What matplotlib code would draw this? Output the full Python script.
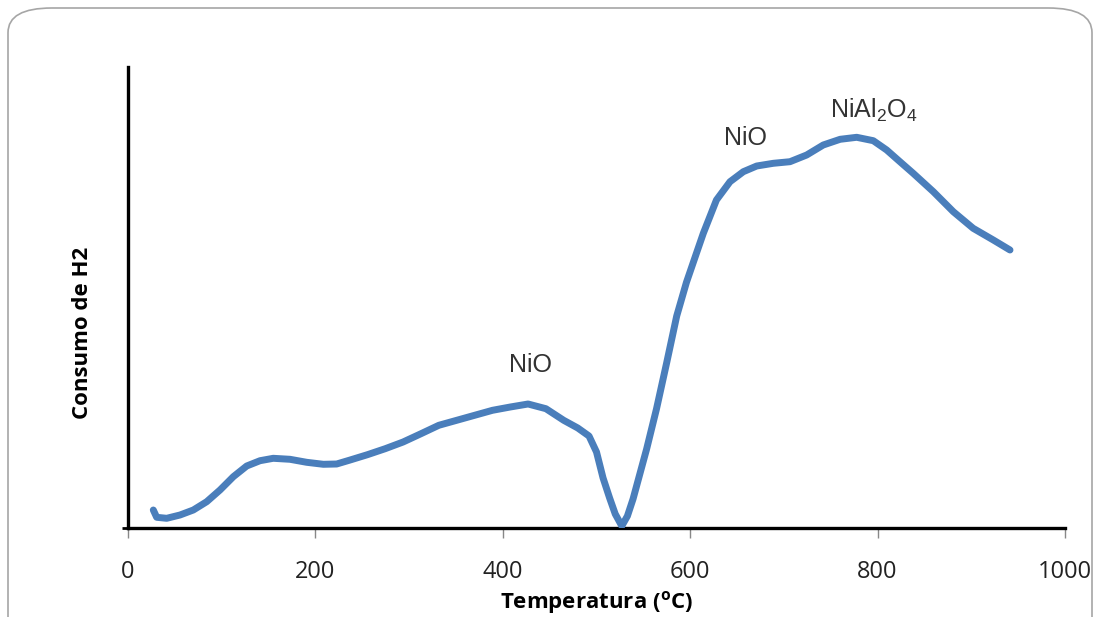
import matplotlib
matplotlib.use("Agg")
import matplotlib.pyplot as plt
from matplotlib.patches import FancyBboxPatch

# TPR curve (arbitrary units)
temperatura = [27, 30.6, 41.3, 55.5, 69.7, 84, 98.2, 112.4, 126.7, 140.9,
               155, 172.9, 190.7, 208.5, 222.7, 236, 255.5, 274.5, 293.6,
               312.7, 331.7, 350.8, 369.9, 389, 408, 427, 446, 465, 480, 492,
               500, 507, 514, 520, 527, 533, 539, 553.5, 564, 575, 585.6, 596,
               607, 614, 628, 642.5, 656.7, 671, 688.7, 706.5, 724.3, 742, 760,
               777.7, 795.4, 809.7, 823, 838, 859.5, 880.8, 902, 923.5, 941.3]
consumo = [18, 10.7, 9.7, 13, 18, 26.3, 38, 51.3, 62, 67.3,
           69.7, 68.7, 65.7, 63.7, 64, 67.7, 73.3, 79.3, 86,
           94.3, 102.7, 107.7, 112.7, 117.7, 121, 124, 119.3, 107.7, 100, 92,
           76, 50, 30, 14, 2, 12, 29, 79, 119, 165.7, 212, 245.7,
           275.7, 294.7, 328, 346.3, 356.3, 362, 364.7, 366.3, 373, 383, 388.7,
           390.7, 387.3, 378, 367, 354.7, 336.3, 316.3, 299.7, 288, 278]

x_ticks = [0, 200, 400, 600, 800, 1000]

picos = ["NiO", "NiO", "NiAl$_\\mathregular{2}$O$_\\mathregular{4}$"]
picos_x = [430, 659.5, 796]
picos_y = [156, 383, 410]

fig = plt.figure(figsize=(10.96, 6.17), dpi=100)

# rounded frame around the chart
marco = FancyBboxPatch((8 / 1096, -0.1), 1084 / 1096, 1.1 - 8 / 617,
                       boxstyle="round,pad=0,rounding_size=0.04",
                       transform=fig.transFigure, facecolor="none",
                       edgecolor="#a6a6a6", linewidth=1.2, zorder=0)
fig.patches.append(marco)

ax = fig.add_axes([128 / 1096, 89 / 617, 937 / 1096, 461 / 617])
ax.patch.set_alpha(0)

ax.plot(temperatura, consumo, color="#4a7ebb", linewidth=5,
        solid_capstyle="round", solid_joinstyle="round", zorder=3)

ax.set_xlim(0, 1000)
ax.set_ylim(0, 461)

ax.spines["top"].set_visible(False)
ax.spines["right"].set_visible(False)
ax.spines["left"].set_linewidth(2.4)
ax.spines["bottom"].set_linewidth(2.4)
ax.spines["left"].set_color("black")
ax.spines["bottom"].set_color("black")

ax.set_xticks(x_ticks)
ax.set_xticklabels([str(t) for t in x_ticks], fontfamily="Open Sans",
                   fontsize=17, color="#222222")
ax.tick_params(axis="x", direction="out", length=7, width=1, color="#888888",
               pad=16)
ax.set_yticks([0])
ax.set_yticklabels([""])
ax.tick_params(axis="y", direction="out", length=4, width=2, color="black")

ax.set_xlabel("Temperatura ($^\\mathregular{o}$C)", fontfamily="Open Sans",
              fontsize=16, fontweight="bold", labelpad=4)
ax.set_ylabel("Consumo de H2", fontfamily="Open Sans", fontsize=16,
              fontweight="bold")
ax.yaxis.set_label_coords(-0.037, 0.423)

for txt, px, py in zip(picos, picos_x, picos_y):
    ax.text(px, py, txt, fontfamily="Liberation Sans", fontsize=18,
            color="#333333", ha="center", va="baseline")

fig.savefig("out.png", dpi=100)
